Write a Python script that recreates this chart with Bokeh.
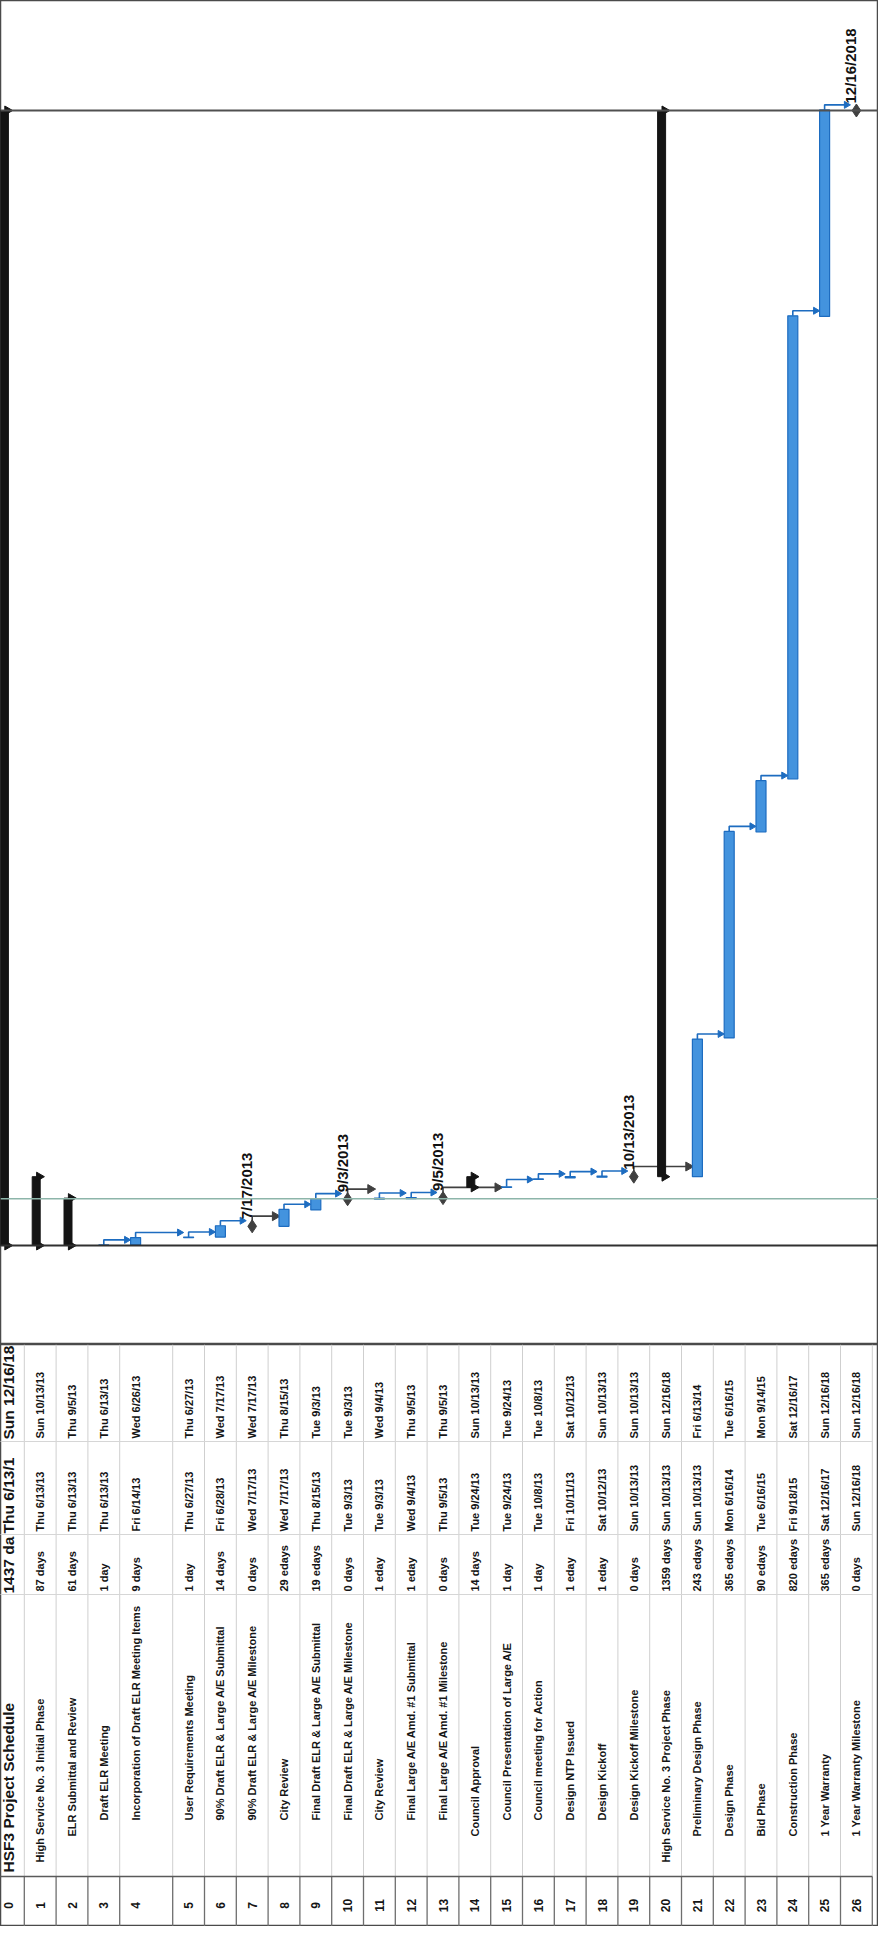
import math
from datetime import datetime, timedelta
from bokeh.plotting import figure
from bokeh.layouts import column
from bokeh.models import Range1d, Span
from bokeh.embed import file_html
from bokeh.resources import INLINE
from bokeh.core.properties import value

# ---------------- data ----------------
ids = [str(i) for i in range(27)]
task_names = [
    "HSF3 Project Schedule",
    "High Service No. 3 Initial Phase",
    "ELR Submittal and Review",
    "Draft ELR Meeting",
    "Incorporation of Draft ELR Meeting Items",
    "User Requirements Meeting",
    "90% Draft ELR & Large A/E Submittal",
    "90% Draft ELR & Large A/E Milestone",
    "City Review",
    "Final Draft ELR & Large A/E Submittal",
    "Final Draft ELR & Large A/E Milestone",
    "City Review",
    "Final Large A/E Amd. #1 Submittal",
    "Final Large A/E Amd. #1 Milestone",
    "Council Approval",
    "Council Presentation of Large A/E",
    "Council meeting for Action",
    "Design NTP Issued",
    "Design Kickoff",
    "Design Kickoff Milestone",
    "High Service No. 3 Project Phase",
    "Preliminary Design Phase",
    "Design Phase",
    "Bid Phase",
    "Construction Phase",
    "1 Year Warranty",
    "1 Year Warranty Milestone",
]
durations = ["1437 days", "87 days", "61 days", "1 day", "9 days", "1 day", "14 days",
             "0 days", "29 edays", "19 edays", "0 days", "1 eday", "1 eday", "0 days",
             "14 days", "1 day", "1 day", "1 eday", "1 eday", "0 days", "1359 days",
             "243 edays", "365 edays", "90 edays", "820 edays", "365 edays", "0 days"]
starts = ["Thu 6/13/13", "Thu 6/13/13", "Thu 6/13/13", "Thu 6/13/13", "Fri 6/14/13",
          "Thu 6/27/13", "Fri 6/28/13", "Wed 7/17/13", "Wed 7/17/13", "Thu 8/15/13",
          "Tue 9/3/13", "Tue 9/3/13", "Wed 9/4/13", "Thu 9/5/13", "Tue 9/24/13",
          "Tue 9/24/13", "Tue 10/8/13", "Fri 10/11/13", "Sat 10/12/13", "Sun 10/13/13",
          "Sun 10/13/13", "Sun 10/13/13", "Mon 6/16/14", "Tue 6/16/15", "Fri 9/18/15",
          "Sat 12/16/17", "Sun 12/16/18"]
finishes = ["Sun 12/16/18", "Sun 10/13/13", "Thu 9/5/13", "Thu 6/13/13", "Wed 6/26/13",
            "Thu 6/27/13", "Wed 7/17/13", "Wed 7/17/13", "Thu 8/15/13", "Tue 9/3/13",
            "Tue 9/3/13", "Wed 9/4/13", "Thu 9/5/13", "Thu 9/5/13", "Sun 10/13/13",
            "Tue 9/24/13", "Tue 10/8/13", "Sat 10/12/13", "Sun 10/13/13", "Sun 10/13/13",
            "Sun 12/16/18", "Fri 6/13/14", "Tue 6/16/15", "Mon 9/14/15", "Sat 12/16/17",
            "Sun 12/16/18", "Sun 12/16/18"]
outline_levels = [0, 1, 2, 3, 3, 3, 3, 3, 3, 3, 3, 3, 3, 3, 2, 3, 3, 3, 3, 3, 1, 2, 2, 2, 2, 2, 2]
summary_rows = [0, 1, 2, 14, 20]
link_from = [3, 4, 5, 6, 7, 8, 9, 10, 11, 12, 13, 15, 16, 17, 18, 19, 21, 22, 23, 24, 25]
link_to = [4, 5, 6, 7, 8, 9, 10, 11, 12, 13, 15, 16, 17, 18, 19, 21, 22, 23, 24, 25, 26]
status_date = "Wed 9/4/13"

# ---------------- helpers ----------------
def parse(s):
    m, d, y = s.split()[1].split("/")
    return datetime(2000 + int(y), int(m), int(d))

n = len(task_names)
is_ms = [d.startswith("0 ") for d in durations]
is_sum = [i in summary_rows for i in range(n)]
t_start = [parse(s) for s in starts]
t_fin = []
for i in range(n):
    f = parse(finishes[i])
    if not is_ms[i] and not is_sum[i]:
        f = f + timedelta(days=1)
    t_fin.append(f)
proj_start = parse(starts[0])
proj_finish = parse(finishes[0])

# row layout (page pixels across the rotated sheet)
ROW_W = 31.8
ROW4_W = 53.0
row_w = [ROW_W] * n
row_w[4] = ROW4_W
edges = [0.0]
for w in row_w:
    edges.append(edges[-1] + w)
xc = [edges[i] + ROW_W / 2 for i in range(n)]

# time scale: project span occupies page y 118..1253
PAD_BOTTOM_DAYS = 175.5
PAD_TOP_DAYS = 195.0
y_lo = proj_start - timedelta(days=PAD_BOTTOM_DAYS)
y_hi = proj_finish + timedelta(days=PAD_TOP_DAYS)

BLUE = "#4393de"
BLUE_EDGE = "#1d6cc0"
DARK = "#141414"
MS_COL = "#404040"

# ---------------- gantt ----------------
g = figure(width=878, height=1344, x_range=Range1d(8, 886), y_range=Range1d(y_lo, y_hi),
           y_axis_type="datetime", output_backend="svg", toolbar_location=None,
           min_border=0)
g.xaxis.visible = False
g.yaxis.visible = False
g.grid.visible = False
g.outline_line_color = "#4a4a4a"
g.outline_line_width = 1.5
g.background_fill_color = "white"

g.add_layout(Span(location=proj_finish, dimension="width", line_color="#505050", line_width=2))
g.add_layout(Span(location=proj_start, dimension="width", line_color="#303030", line_width=2))
g.add_layout(Span(location=parse(status_date), dimension="width", line_color="#8db5aa", line_width=1.5))

# links
lx, ly, lc, ax, ay, ac, asz = [], [], [], [], [], [], []
for a, b in zip(link_from, link_to):
    stub = timedelta(days=18 if is_ms[a] else 9)
    y_run = max(t_start[b], t_fin[a] + stub)
    hw = 6 if is_ms[b] else (4 if is_sum[b] else 5)
    tip = xc[b] - hw - 1
    col = MS_COL if is_ms[a] else BLUE_EDGE
    lx.append([xc[a], xc[a], tip - 3])
    ly.append([t_fin[a], y_run, y_run])
    lc.append(col)
    ax.append(tip - 3)
    ay.append(y_run)
    ac.append(col)
    asz.append(9 if is_ms[a] else 7)
g.multi_line(xs=lx, ys=ly, line_color=lc, line_width=1.6)
g.scatter(x=ax, y=ay, marker="triangle", angle=-math.pi / 2, size=asz,
          fill_color=ac, line_color=ac)

# task bars
tk = [i for i in range(n) if not is_ms[i] and not is_sum[i]]
g.vbar(x=[xc[i] for i in tk], bottom=[t_start[i] for i in tk], top=[t_fin[i] for i in tk],
       width=10, fill_color=BLUE, line_color=BLUE_EDGE, line_width=1.2)

# summary bars
sm = [i for i in range(n) if is_sum[i]]
g.vbar(x=[xc[i] - 4 for i in sm], bottom=[t_start[i] for i in sm], top=[t_fin[i] for i in sm],
       width=8, fill_color=DARK, line_color=DARK)
cap_x = [xc[i] - 1 for i in sm] * 2
cap_y = [t_start[i] for i in sm] + [t_fin[i] for i in sm]
g.scatter(x=cap_x, y=cap_y, marker="triangle", angle=-math.pi / 2, size=9,
          fill_color=DARK, line_color=DARK)

# milestones
ms = [i for i in range(n) if is_ms[i]]
g.scatter(x=[xc[i] for i in ms], y=[t_fin[i] for i in ms], marker="diamond", size=13,
          fill_color=MS_COL, line_color=MS_COL)
g.text(x=[xc[i] + 3 for i in ms], y=[t_fin[i] for i in ms],
       text=[f"{t_fin[i].month}/{t_fin[i].day}/{t_fin[i].year}" for i in ms],
       angle=math.pi / 2, text_align="left", text_baseline="bottom", y_offset=-7,
       text_font=value("Liberation Sans"), text_font_style="bold",
       text_font_size="15px", text_color="#111111")

# ---------------- table ----------------
TOP, C_FS, C_SD, C_DT, C_TI, BOT = 1352, 1449, 1542, 1602, 1884, 1942
t = figure(width=878, height=582, x_range=g.x_range, y_range=Range1d(1934, 1352),
           output_backend="svg", toolbar_location=None, min_border=0)
t.xaxis.visible = False
t.yaxis.visible = False
t.grid.visible = False
t.outline_line_color = "#4a4a4a"
t.outline_line_width = 1.5

# grid
t.segment(x0=edges, y0=[TOP] * len(edges), x1=edges, y1=[C_TI] * len(edges),
          line_color="#cfcfcf", line_width=1)
t.segment(x0=edges, y0=[C_TI] * len(edges), x1=edges, y1=[BOT] * len(edges),
          line_color="#6e6e6e", line_width=1.3)
t.segment(x0=[0, 0, 0], y0=[C_FS, C_SD, C_DT], x1=[edges[-1]] * 3, y1=[C_FS, C_SD, C_DT],
          line_color="#d6d6d6", line_width=1)
t.segment(x0=[0], y0=[C_TI], x1=[edges[-1]], y1=[C_TI], line_color="#5a5a5a", line_width=1.5)

NARROW = value("'Liberation Sans Narrow', 'Liberation Sans', sans-serif")
body = list(range(1, n))
indent = [4, 12, 38, 54]
common = dict(angle=math.pi / 2, text_baseline="middle", text_color="#151515")
t.text(x=[xc[i] for i in body], y=[C_TI - 2 - indent[outline_levels[i]] for i in body],
       text=[task_names[i] for i in body], text_align="left", text_font=NARROW,
       text_font_style="bold", text_font_size="11px", **common)
t.text(x=[xc[i] for i in body], y=[C_DT - 3] * len(body), text=[durations[i] for i in body],
       text_align="left", text_font=NARROW, text_font_style="bold", text_font_size="11px", **common)
t.text(x=[xc[i] for i in body], y=[C_SD - 3] * len(body), text=[starts[i] for i in body],
       text_align="left", text_font=NARROW, text_font_style="bold", text_font_size="11px", **common)
t.text(x=[xc[i] for i in body], y=[C_FS - 3] * len(body), text=[finishes[i] for i in body],
       text_align="left", text_font=NARROW, text_font_style="bold", text_font_size="11px", **common)

# header row 0 (cells clipped to column width as in the sheet)
t.text(x=[xc[0]] * 4, y=[C_TI - 4, C_DT - 1, C_SD - 1, C_FS - 2],
       text=[task_names[0], durations[0][:7], starts[0][:10], finishes[0]],
       text_align="left", text_font=value("Liberation Sans"), text_font_style="bold",
       text_font_size="15.5px", **common)

# ID column
t.text(x=xc, y=[(C_TI + BOT) / 2] * n, text=ids, angle=math.pi / 2, text_align="center",
       text_baseline="middle", text_font=value("Liberation Sans"), text_font_style="bold",
       text_font_size="12px", text_color="#151515")

page = column(g, t, spacing=0)
open("out.html", "w").write(file_html(page, INLINE))
